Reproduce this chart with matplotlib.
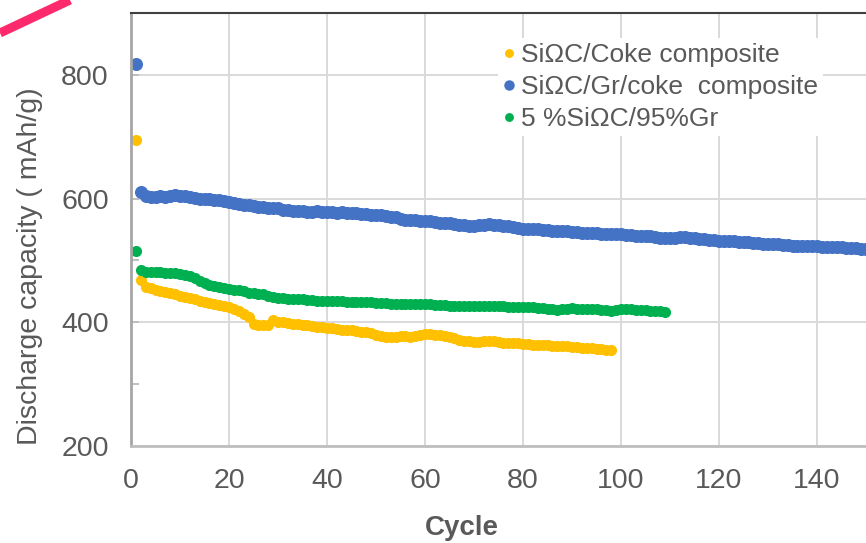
import numpy as np
import matplotlib.pyplot as plt
from matplotlib.lines import Line2D

plt.rcParams['font.family'] = ['Liberation Sans', 'DejaVu Sans']

# Capacidade de descarga (mAh/g) por ciclo
coke = [695, 468, 457, 455, 453, 451, 449, 447, 445, 443,
        441, 439, 437, 434, 432, 431, 429, 428, 426, 425,
        422, 419, 414, 408, 398, 396, 395, 396, 403, 401,
        400, 399, 398, 397, 396, 395, 394, 393, 392, 391,
        390, 389, 388, 388, 387, 386, 385, 384, 382, 380,
        378, 377, 377, 377, 378, 378, 377, 378, 379, 381,
        381, 380, 379, 378, 376, 374, 372, 370, 369, 368,
        368, 369, 369, 369, 368, 367, 367, 366, 366, 365,
        365, 364, 364, 363, 363, 362, 362, 361, 361, 360,
        360, 359, 359, 358, 357, 357, 356, 355]

gr_coke = [818, 610, 604, 603, 603, 604, 603, 604, 605, 604,
           604, 603, 601, 600, 599, 599, 598, 597, 596, 594,
           593, 591, 590, 589, 588, 587, 586, 585, 585, 584,
           582, 581, 580, 580, 580, 579, 579, 580, 579, 579,
           578, 577, 578, 577, 576, 576, 575, 575, 574, 573,
           573, 572, 571, 570, 567, 566, 565, 565, 564, 563,
           563, 562, 561, 561, 560, 559, 558, 557, 556, 556,
           557, 558, 559, 558, 557, 556, 555, 554, 552, 551,
           551, 550, 550, 549, 549, 548, 548, 547, 547, 546,
           546, 545, 545, 544, 544, 543, 543, 543, 542, 542,
           541, 541, 540, 540, 539, 539, 538, 537, 537, 536,
           537, 538, 538, 537, 536, 535, 534, 533, 533, 532,
           532, 531, 531, 530, 529, 529, 528, 528, 527, 527,
           526, 526, 525, 525, 524, 524, 524, 523, 523, 523,
           522, 522, 522, 521, 521, 520, 520, 520, 519, 519,
           519, 518]

gr95 = [516, 484, 482, 482, 481, 481, 480, 480, 479, 478,
        477, 475, 471, 466, 463, 461, 459, 457, 455, 454,
        453, 452, 450, 448, 447, 446, 445, 443, 441, 440,
        439, 438, 438, 437, 437, 436, 436, 435, 435, 435,
        434, 434, 434, 433, 433, 433, 432, 432, 432, 431,
        431, 431, 430, 430, 429, 429, 429, 429, 430, 429,
        429, 428, 428, 428, 427, 427, 427, 427, 427, 427,
        426, 426, 426, 426, 426, 426, 425, 425, 425, 425,
        424, 424, 423, 423, 422, 421, 420, 421, 422, 423,
        422, 422, 421, 421, 421, 420, 420, 419, 420, 421,
        421, 421, 420, 420, 420, 419, 419, 418, 417]

labels = ['SiΩC/Coke composite', 'SiΩC/Gr/coke  composite', '5 %SiΩC/95%Gr']
cores = ['#FFC000', '#4472C4', '#00B050']
series = [coke, gr_coke, gr95]
tamanhos = [8.0, 9.4, 8.0]

fig = plt.figure(figsize=(8.66, 5.43), dpi=100)
ax = fig.add_axes([131 / 866, 1 - 446 / 543, 1 - 131 / 866, (446 - 13) / 543])

for dados, cor, ms, lab in zip(series, cores, tamanhos, labels):
    ciclos = np.arange(1, len(dados) + 1)
    ax.plot(ciclos, dados, 'o', color=cor, ms=ms, mew=0, label=lab)

ax.set_xlim(0, 150)
ax.set_ylim(200, 900)
ax.set_xticks(range(0, 141, 20))
ax.set_yticks([200, 400, 600, 800])
ax.set_yticks([300, 500, 700, 900], minor=True)

ax.grid(True, color='#D9D9D9', lw=1.4)
ax.set_axisbelow(True)
ax.tick_params(axis='x', length=0, pad=16, labelsize=20.5, labelcolor='#595959')
ax.tick_params(axis='y', which='both', direction='in', length=6, width=1.4,
               color='#BFBFBF', pad=16, labelsize=20.5, labelcolor='#595959')

ax.spines['left'].set_color('#A6A6A6')
ax.spines['left'].set_linewidth(2)
ax.spines['bottom'].set_color('#BFBFBF')
ax.spines['bottom'].set_linewidth(2)
ax.spines['top'].set_color('#404040')
ax.spines['top'].set_linewidth(1.5)
ax.spines['right'].set_visible(False)

# títulos dos eixos
fig.text(30 / 866, 1 - 266 / 543, 'Discharge capacity ( mAh/g)', rotation=90,
         ha='center', va='center', fontsize=20.5, color='#595959')
fig.text(462 / 866, 1 - 528 / 543, 'Cycle', ha='center', va='center',
         fontsize=20, fontweight='bold', color='#595959')

leg = ax.legend(loc='upper left', bbox_to_anchor=(498 / 866, 1 - 38 / 543),
                bbox_transform=fig.transFigure, frameon=True, facecolor='white',
                edgecolor='none', framealpha=1, fancybox=False, fontsize=19,
                handlelength=0.4, handletextpad=0.26, labelspacing=0.3,
                borderpad=0.2, borderaxespad=0, markerscale=0.8)
for t in leg.get_texts():
    t.set_color('#595959')

# traço rosa no canto superior esquerdo
fig.add_artist(Line2D([0, 70 / 866], [1 - 33 / 543, 1.0], color='#FF2A6D', lw=6.5,
                      solid_capstyle='butt'))

fig.savefig('out.png', dpi=100)
